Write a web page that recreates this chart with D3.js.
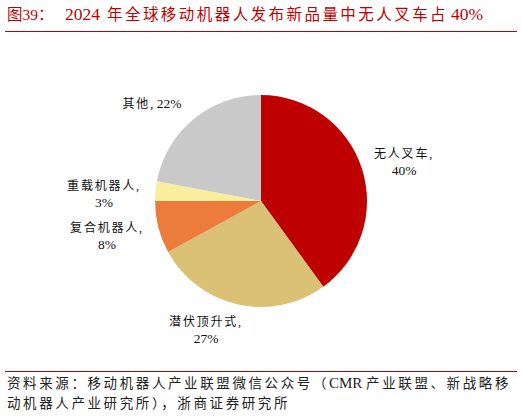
<!DOCTYPE html>
<html>
<head>
<meta charset="utf-8">
<script src="https://cdn.jsdelivr.net/npm/d3@7"></script>
<style>
	body { margin: 0; background: #fff; }
	text { font-family: "Liberation Serif", "Noto Sans CJK SC", serif; }
</style>
</head>
<body>
<script>
var width = 522,
	height = 417;

// pie data, clockwise from 12 o'clock
var names = ['无人叉车', '潜伏顶升式', '复合机器人', '重载机器人', '其他'];
var shares = [40, 27, 8, 3, 22];
var colors = ['#BF0000', '#DBC176', '#EC7C3C', '#F9EE9E', '#C9C9C9'];

// label anchor spots (x, y of first line) and whether on one line
var labelPos = [
	[404, 158, false],
	[206, 326, false],
	[107, 232, false],
	[104, 190, false],
	[152, 108, true]
];

var svg = d3.select('body')
	.append('svg')
	.attr('width', width)
	.attr('height', height);

var red = '#C00000';

// split a string into latin / cjk runs, space out only the cjk ones
function mixed(sel, str, gap, latinSize) {
	var runs = str.match(/[\x20-\x7e]+|[^\x20-\x7e]+/g);
	runs.forEach(function(s) {
		var latin = /^[\x20-\x7e]+$/.test(s);
		var t = sel.append('tspan')
			.style('letter-spacing', latin ? '0px' : gap + 'px')
			.text(s);
		if (latin && latinSize) t.style('font-size', latinSize + 'px');
	});
}

var title = svg.append('text')
	.attr('x', 7)
	.attr('y', 20)
	.attr('fill', red)
	.style('font-size', '15.5px');
title.append('tspan').text('图39：');
title.append('tspan')
	.attr('x', 65)
	.style('font-size', '17.5px')
	.text('2024');
title.append('tspan')
	.attr('x', 107)
	.style('letter-spacing', '2.45px')
	.text('年全球移动机器人发布新品量中无人叉车占');
title.append('tspan')
	.attr('x', 451)
	.style('font-size', '17.5px')
	.text('40%');

svg.append('line')
	.attr('x1', 5).attr('x2', 517)
	.attr('y1', 31.5).attr('y2', 31.5)
	.attr('stroke', red)
	.attr('stroke-width', 1);

var cx = 261,
	cy = 201,
	r = 106;

var pie = d3.pie()
	.sort(null)
	.value(function(d) { return d; });

var arc = d3.arc()
	.innerRadius(0)
	.outerRadius(r);

var g = svg.append('g')
	.attr('transform', 'translate(' + cx + ',' + cy + ')');

g.selectAll('path')
	.data(pie(shares))
	.enter()
	.append('path')
	.attr('d', arc)
	.attr('fill', function(d, i) { return colors[i]; });

var labels = svg.selectAll('.lbl')
	.data(names)
	.enter()
	.append('text')
	.attr('class', 'lbl')
	.attr('text-anchor', 'middle')
	.attr('fill', '#111')
	.style('font-size', '12px');

labels.each(function(d, i) {
	var t = d3.select(this),
		p = labelPos[i];
	if (p[2]) {
		t.attr('x', p[0]).attr('y', p[1]);
		mixed(t, d + ', ' + shares[i] + '%', 1.8, 13.5);
	} else {
		t.append('tspan')
			.attr('x', p[0]).attr('y', p[1])
			.style('letter-spacing', '1.8px')
			.text(d + ',');
		t.append('tspan')
			.attr('x', p[0]).attr('y', p[1] + 17)
			.style('font-size', '13.5px')
			.text(shares[i] + '%');
	}
});

svg.append('line')
	.attr('x1', 5).attr('x2', 517)
	.attr('y1', 371.5).attr('y2', 371.5)
	.attr('stroke', red)
	.attr('stroke-width', 1);

var source = [
	'资料来源：移动机器人产业联盟微信公众号（CMR 产业联盟、新战略移',
	'动机器人产业研究所），浙商证券研究所'
];

svg.selectAll('.src')
	.data(source)
	.enter()
	.append('text')
	.attr('class', 'src')
	.attr('x', 7)
	.attr('y', function(d, i) { return 388 + i * 20; })
	.attr('fill', '#222')
	.style('font-size', '13.5px')
	.each(function(d) { mixed(d3.select(this), d, 2.6, 15); });
</script>
</body>
</html>
